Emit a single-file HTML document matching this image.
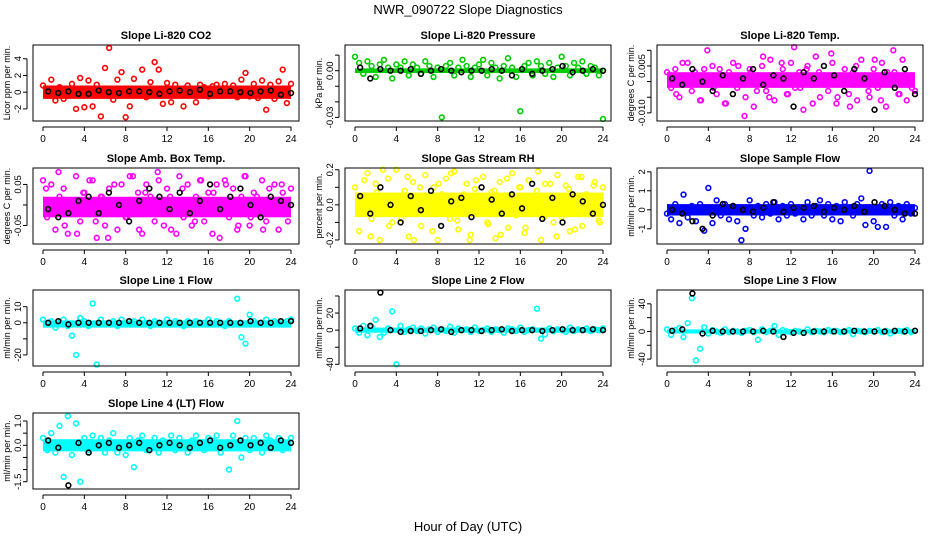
<!DOCTYPE html>
<html><head><meta charset="utf-8"><style>
body{margin:0;background:#fff;}
svg{display:block;font-family:"Liberation Sans",sans-serif;}
</style></head><body>
<svg id="chart" width="936" height="540" viewBox="0 0 936 540" xmlns="http://www.w3.org/2000/svg">
<text x="468" y="14" font-size="13" text-anchor="middle">NWR_090722  Slope Diagnostics</text>
<text x="468" y="531" font-size="13" text-anchor="middle">Hour of Day (UTC)</text>
</svg>
<script>
const xTicks=[0,4,8,12,16,20,24];
const titles=["Slope Li-820 CO2","Slope Li-820 Pressure","Slope Li-820 Temp.","Slope Amb. Box Temp.","Slope Gas Stream RH","Slope Sample Flow","Slope Line 1 Flow","Slope Line 2 Flow","Slope Line 3 Flow","Slope Line 4 (LT) Flow"];
const yLabels=["Licor ppm per min.","kPa per min.","degrees C per min.","degrees C per min.","percent per min.","ml/min per min.","ml/min per min.","ml/min per min.","ml/min per min.","ml/min per min."];
const colors=["#ff0000","#00cd00","#ff00ff","#ff00ff","#ffff00","#0000ff","#00ffff","#00ffff","#00ffff","#00ffff"];
const yRanges=[[-3.45,5.65],[-0.0323,0.0165],[-0.0126,0.0117],[-0.095,0.09],[-0.223,0.21],[-1.8,2.2],[-26.9,20.4],[-42,47],[-50,60],[-1.8,1.33]];
const yTicks=[[-2,0,2,4],[-0.03,-0.02,-0.01,0,0.01],[-0.01,-0.005,0,0.005,0.01],[-0.05,0,0.05],[-0.2,-0.1,0,0.1,0.2],[-1,0,1,2],[-20,-10,0,10],[-40,-20,0,20,40],[-40,-20,0,20,40],[-1.5,-1,-0.5,0,0.5,1]];
const yTickLabels=[["-2","0","2","4"],["-0.03","","","0.00",""],["-0.010","","","0.005",""],["-0.05","","0.05"],["-0.2","","0.0","","0.2"],["-1","0","1","2"],["-20","","0","10"],["-40","","0","20",""],["-40","","0","","40"],["-1.5","","","0.0","","1.0"]];
const bands=[[-0.8,0.8],[-0.0015,0.0015],[-0.002,0.003],[-0.03,0.02],[-0.07,0.07],[-0.3,0.3],[-3,1.5],[-3,3],[-3,3],[-0.25,0.25]];
const v0=[0.8,-0.4,1.5,-1.0,0.6,-0.8,0.3,1.0,-2.0,1.7,-1.8,1.4,-1.7,0.9,-2.9,2.9,5.3,-0.9,1.5,2.4,-3.0,-1.7,1.6,0.4,2.7,-0.6,1.2,3.6,2.7,-1.4,1.1,-1.2,0.9,0.4,-1.7,0.8,0.3,-1.2,0.9,0.6,-0.5,0.7,0.9,-0.4,1.0,0.3,0.8,-0.6,1.5,2.3,-0.5,1.0,-0.7,1.4,-2.1,0.9,-0.8,1.3,2.7,-1.3,1.0];
const v1=[0.009,0.005,-0.002,0.006,0.003,-0.004,0.004,0.007,0.002,-0.005,0.004,0.002,0.006,-0.003,0.004,0.002,-0.002,0.006,0.003,-0.004,0.002,-0.030,0.003,0.005,-0.003,0.002,0.007,0.003,-0.004,0.002,0.004,0.007,-0.003,0.005,0.002,-0.005,0.003,0.008,0.002,-0.004,-0.026,0.003,0.005,-0.003,0.006,0.003,-0.002,0.005,-0.004,0.002,0.009,0.003,-0.003,0.005,0.002,0.006,-0.002,0.003,0.002,-0.003,-0.031];
const v2=[0.003,-0.002,0.004,-0.005,0.001,0.006,-0.003,0.002,-0.006,0.004,-0.001,0.005,-0.004,0.002,-0.007,0.003,0.006,-0.002,0.001,-0.005,0.004,-0.008,0.002,0.005,-0.003,0.007,-0.006,0.001,0.004,-0.004,0.006,-0.002,0.003,-0.009,0.005,-0.001,0.008,-0.005,0.002,-0.003,0.006,-0.007,0.001,0.004,-0.004,0.003,-0.006,0.007,0.002,-0.005,0.004,-0.002,0.006,-0.008,0.001,0.003,-0.004,0.007,-0.006,0.002,-0.003];
const v3=[0.06,-0.03,0.05,-0.06,0.02,0.04,-0.07,0.01,0.07,-0.04,0.03,-0.02,0.06,-0.08,0.02,-0.05,0.04,0.01,-0.06,0.05,-0.03,0.07,-0.01,0.03,-0.07,0.05,0.02,-0.04,0.06,-0.02,0.04,-0.06,0.01,0.07,-0.03,0.05,-0.05,0.02,0.06,-0.04,0.03,-0.07,0.05,-0.01,0.06,-0.03,0.04,-0.06,0.02,0.07,-0.05,0.03,-0.02,0.06,-0.04,0.01,0.05,-0.06,0.03,-0.02,0.04];
const v4=[0.1,-0.15,0.05,0.18,-0.08,0.12,-0.2,0.03,0.15,-0.1,0.2,-0.05,0.08,-0.18,0.13,0.02,-0.12,0.17,-0.03,0.1,-0.2,0.06,0.15,-0.08,0.19,-0.14,0.04,0.12,-0.17,0.09,-0.02,0.16,-0.1,0.07,-0.19,0.13,0.01,-0.13,0.18,-0.06,0.1,-0.16,0.14,-0.03,0.08,-0.2,0.12,0.05,-0.1,0.17,-0.07,0.11,-0.15,0.03,0.16,-0.12,0.06,-0.04,0.13,-0.09,0.1];
const v5=[-0.2,-0.5,0.3,-0.7,0.8,-0.4,0.2,-0.6,0.3,-1.1,1.15,-0.7,0.5,-0.3,0.3,-0.5,0.2,-0.6,-1.6,-1.0,0.5,-0.3,0.2,-0.4,0.3,-0.2,0.4,-0.5,0.2,-0.3,0.3,-0.2,0.1,-0.5,0.4,-0.3,0.2,0.5,-0.3,0.3,-0.5,0.2,-0.6,0.4,0.1,-0.3,0.3,0.6,-0.8,2.05,-0.6,-0.9,0.3,-0.9,0.4,-0.3,0.2,-0.5,0.3,-0.2,0.1];
const v6=[2,-1,1,-3,0,2,-2,-8,-20,3,1,-2,12,-26,2,-1,0,1,-2,2,0,-1,1,-1,2,0,-2,1,0,-1,2,-1,1,0,-2,1,0,1,-1,0,2,-1,1,0,-2,1,-1,15,-9,-13,5,1,-1,0,2,-1,1,0,-1,1,2];
const v7=[2,-3,5,-6,4,12,-8,-3,2,22,-40,5,-2,1,3,-1,2,-4,1,3,-2,1,-1,4,-3,2,0,1,-2,3,-1,0,2,-2,1,0,-3,2,1,-1,3,-2,0,1,25,-10,-5,2,-1,1,0,-2,3,-1,1,0,2,-1,1,0,2];
const v8=[3,-5,2,5,-8,12,48,-42,-25,6,-3,2,0,-2,3,-1,1,0,-2,1,2,-1,-12,3,-1,1,8,-5,2,0,-1,1,0,-2,3,-1,1,0,-1,2,0,1,-1,0,2,-4,1,0,-1,1,0,2,-1,1,-3,0,1,0,2,-1,1];
const v9=[0.3,-0.2,0.5,-0.3,0.8,-1.3,1.2,-0.4,0.9,-1.5,0.3,-0.2,0.4,-0.1,0.3,-0.3,0.2,0.5,-0.3,0.1,-0.4,0.3,-0.9,0.2,0.4,-0.2,0.1,0.3,-0.3,0.2,-0.1,0.4,-0.2,0.3,0.1,-0.3,0.2,0.4,-0.1,-0.2,0.3,0.2,0.4,-0.3,0.1,-1.0,0.4,1.0,-0.5,0.3,-0.2,0.3,0.1,-0.3,0.4,0.2,-0.1,0.3,-0.2,0.1,0.3];
const e2=[0.002,-0.004,0.006,-0.001,0.003,-0.006,0.010,-0.002,0.004,-0.007,0.001,0.005,-0.011,0.003,-0.003,0.008,-0.005,0.002,0.006,-0.004,0.011,-0.002,0.004,-0.007,0.003,-0.001,0.009,-0.005,0.002,-0.008,0.005,0.001,-0.003,0.007,-0.006,0.003,0.010,-0.004,0.002,-0.002];
const e3=[0.04,-0.02,0.08,-0.05,0.01,-0.07,0.03,0.06,-0.04,0.02,-0.08,0.05,0.00,-0.03,0.07,-0.06,0.03,-0.01,0.08,-0.05,0.02,-0.07,0.04,0.01,-0.04,0.06,-0.02,0.03,-0.08,0.05,0.00,-0.05,0.07,-0.03,0.02,-0.06,0.04,-0.01,0.05,-0.04];
const e4=[-0.05,0.14,-0.18,0.07,0.2,-0.12,0.03,-0.08,0.16,-0.2,0.1,0.0,-0.15,0.12,-0.04,0.18,-0.09,0.06,-0.2,0.14,0.02,-0.11,0.08,-0.17,0.15,-0.02,0.1,-0.13,0.05,0.19,-0.07,0.12,-0.18,0.04,0.09,-0.14,0.16,-0.05,0.11,-0.1];
const b0=[0.1,-0.1,0.1,-0.2,-0.2,0.2,0,-0.1,0.1,0.1,0,-0.2,0.1,0.2,0,0.3,-0.2,0.1,0.1,0,-0.1,0.1,0.2,-0.3,-0.1];
const b1=[0.002,-0.005,0.001,0,0,0.001,-0.002,0,0.001,0,-0.001,0,0,0.001,0,-0.003,0.001,-0.002,0,0.001,0.003,-0.001,0,0.001,0];
const b2=[0.001,-0.001,0.004,0,-0.003,0.002,-0.004,0.001,0.004,-0.001,0.002,0.001,-0.008,0.003,0.001,0.005,0.002,-0.003,0.004,0.001,-0.009,0.003,-0.002,0.004,-0.004];
const b3=[-0.01,-0.03,-0.02,0.01,0.02,-0.02,0.03,0,-0.04,0.01,0.04,0.02,-0.01,0.03,-0.02,0.01,0.05,-0.01,0.02,0.04,0,-0.03,0.02,0.01,0];
const b4=[0.05,-0.05,0.1,0,-0.1,0.05,-0.03,0.08,-0.12,0.02,0.04,-0.07,0.1,0.03,-0.05,0.06,-0.02,0.12,-0.08,0.04,-0.1,0.06,0.02,-0.05,0];
const b5=[0,-0.2,-0.6,-1.0,-0.3,0.3,0.2,0,-0.1,0.1,0.4,-0.1,0.1,0.1,0.2,-0.1,0.1,0,0.2,-0.1,0.4,0.2,0,-0.2,-0.2];
const b6=[0,1,-1,0,0,0,0,0,1,0,0,0,0,0,0,0,0,0,0,0,1,0,0,1,1];
const b7=[2,5,44,0,-2,-1,-1,0,1,-2,0,0,-1,0,1,-1,0,0,-1,0,1,0,0,1,0];
const b8=[1,3,55,-3,1,0,0,0,0,1,0,-8,-2,-2,0,0,0,0,1,0,0,0,1,0,1];
const b9=[0.2,-0.1,-1.65,0.1,-0.3,0,0.1,-0.1,0,0.1,-0.2,0,0.1,0,-0.1,0.1,0.2,-0.1,0,0.2,0,0.1,-0.1,0.2,0.1];
const colorSeries=[v0,v1,v2,v3,v4,v5,v6,v7,v8,v9];
const extraSeries=[[],[],e2,e3,e4,[],[],[],[],[]];
const blackSeries=[b0,b1,b2,b3,b4,b5,b6,b7,b8,b9];

const NS="http://www.w3.org/2000/svg";
const svg=document.getElementById('chart');
function mk(tag,attrs,parent){const e=document.createElementNS(NS,tag);for(const k in attrs)e.setAttribute(k,attrs[k]);(parent||svg).appendChild(e);return e;}
const rowTop=[45,168,290,413];
for(let p=0;p<10;p++){
  const col=p%3,row=Math.floor(p/3);
  const cx=col*312, top=rowTop[row], bot=top+76, left=cx+33, right=cx+299;
  const x0=cx+43, x1=cx+291;
  const [ymin,ymax]=yRanges[p];
  const X=h=>x0+(x1-x0)*h/24;
  const Y=v=>bot-(v-ymin)/(ymax-ymin)*(bot-top);
  const g=mk('g',{});
  
  
  const t=mk('text',{x:(left+right)/2,y:top-6,'font-size':11,'font-weight':'bold','text-anchor':'middle'},g);
  t.textContent=titles[p];
  
  
  const yl=mk('text',{x:0,y:0,'font-size':9,'text-anchor':'middle',transform:`translate(${cx+10},${(top+bot)/2}) rotate(-90)`},g);
  yl.textContent=yLabels[p];
  
  
  const bd=mk('rect',{x:X(0),y:Y(bands[p][1]),width:X(24)-X(0),height:Y(bands[p][0])-Y(bands[p][1]),fill:colors[p]},g);
  
  
  const cs=colorSeries[p];
  cs.forEach((v,i)=>{
    const c=mk('circle',{cx:X(24*i/(cs.length-1)),cy:Y(v),r:2.4,fill:'none',stroke:colors[p],'stroke-width':1.6},g);
    
    
  });
  const es=extraSeries[p];
  es.forEach((v,i)=>{
    const c=mk('circle',{cx:X(0.3+23.4*i/(es.length-1)),cy:Y(v),r:2.4,fill:'none',stroke:colors[p],'stroke-width':1.6},g);
    
    
  });
  const bs=blackSeries[p];
  bs.forEach((v,i)=>{
    const c=mk('circle',{cx:X(0.5+23.5*i/(bs.length-1)),cy:Y(v),r:2.4,fill:'none',stroke:'#000','stroke-width':1.6},g);
    
    
  });
  const box=mk('rect',{x:left,y:top,width:right-left,height:bot-top,fill:'none',stroke:'#000','stroke-width':1},g);
  
  
  mk('line',{x1:X(0),x2:X(24),y1:bot+6,y2:bot+6,stroke:'#000'},g);
  xTicks.forEach(h=>{
    mk('line',{x1:X(h),x2:X(h),y1:bot+6,y2:bot+10,stroke:'#000'},g);
    const tx=mk('text',{x:X(h),y:bot+21,'font-size':10,'text-anchor':'middle'},g);
    tx.textContent=h;
    
    
  });
  const yt=yTicks[p];
  mk('line',{x1:left-6,x2:left-6,y1:Y(yt[0]),y2:Y(yt[yt.length-1]),stroke:'#000'},g);
  yt.forEach((v,i)=>{
    mk('line',{x1:left-10,x2:left-6,y1:Y(v),y2:Y(v),stroke:'#000'},g);
    if(!yTickLabels[p][i]) return;
    const ty=mk('text',{x:0,y:0,'font-size':9.5,'text-anchor':'middle',transform:`translate(${left-12},${Y(v)}) rotate(-90)`},g);
    ty.textContent=yTickLabels[p][i];
    
    
  });
}
</script>
</body></html>
